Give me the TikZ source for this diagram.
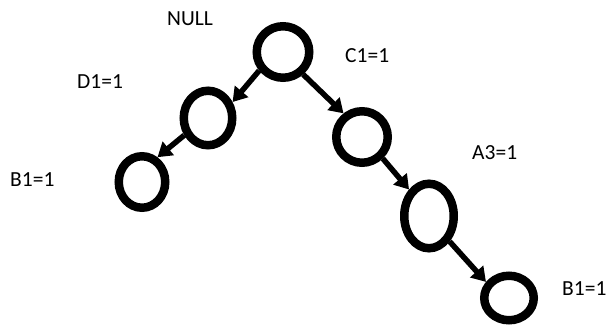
\documentclass[tikz,border=0pt]{standalone}
\usepackage{fontspec}
\setmainfont{Carlito}
\usetikzlibrary{shapes.geometric,arrows.meta}
\begin{document}
\begin{tikzpicture}[x=1pt,y=-1pt,
  vertex/.style={ellipse,draw,line width=8.5pt,inner sep=0pt},
  lbl/.style={anchor=base west,inner sep=0pt,font=\fontsize{21.5}{24}\selectfont},
  arr/.style={line width=5.5pt,-{Triangle[length=14pt,width=17pt]}}]
\useasboundingbox (0,0) rectangle (611,326);

% tree nodes
\node[vertex,minimum width=52.5pt,minimum height=51.5pt] (root) at (283,52) {};
\node[vertex,minimum width=48.5pt,minimum height=54.5pt] (d1) at (208,118) {};
\node[vertex,minimum width=46.5pt,minimum height=51.5pt] (b1l) at (142,182) {};
\node[vertex,minimum width=51.5pt,minimum height=51.5pt] (c1) at (362,137) {};
\node[vertex,minimum width=49.5pt,minimum height=64.5pt] (a3) at (429,216) {};
\node[vertex,minimum width=49.5pt,minimum height=44.5pt] (b1r) at (509,298) {};

% edges
\draw[arr] (root.218) -- (d1.33);
\draw[arr] (d1.216) -- (b1l.58);
\draw[arr] (root.-48) -- (c1.128);
\draw[arr] (c1.-46) -- (a3.127);
\draw[arr] (a3.-51) -- (b1r.145);

% labels
\node[lbl] (lnull) at (167,26) {NULL};
\node[lbl] (ld1) at (77,89) {D1=1};
\node[lbl] (lb1l) at (10,187) {B1=1};
\node[lbl] (lc1) at (345,63) {C1=1};
\node[lbl] (la3) at (472,160) {A3=1};
\node[lbl] (lb1r) at (562,295) {B1=1};
\end{tikzpicture}
\end{document}
